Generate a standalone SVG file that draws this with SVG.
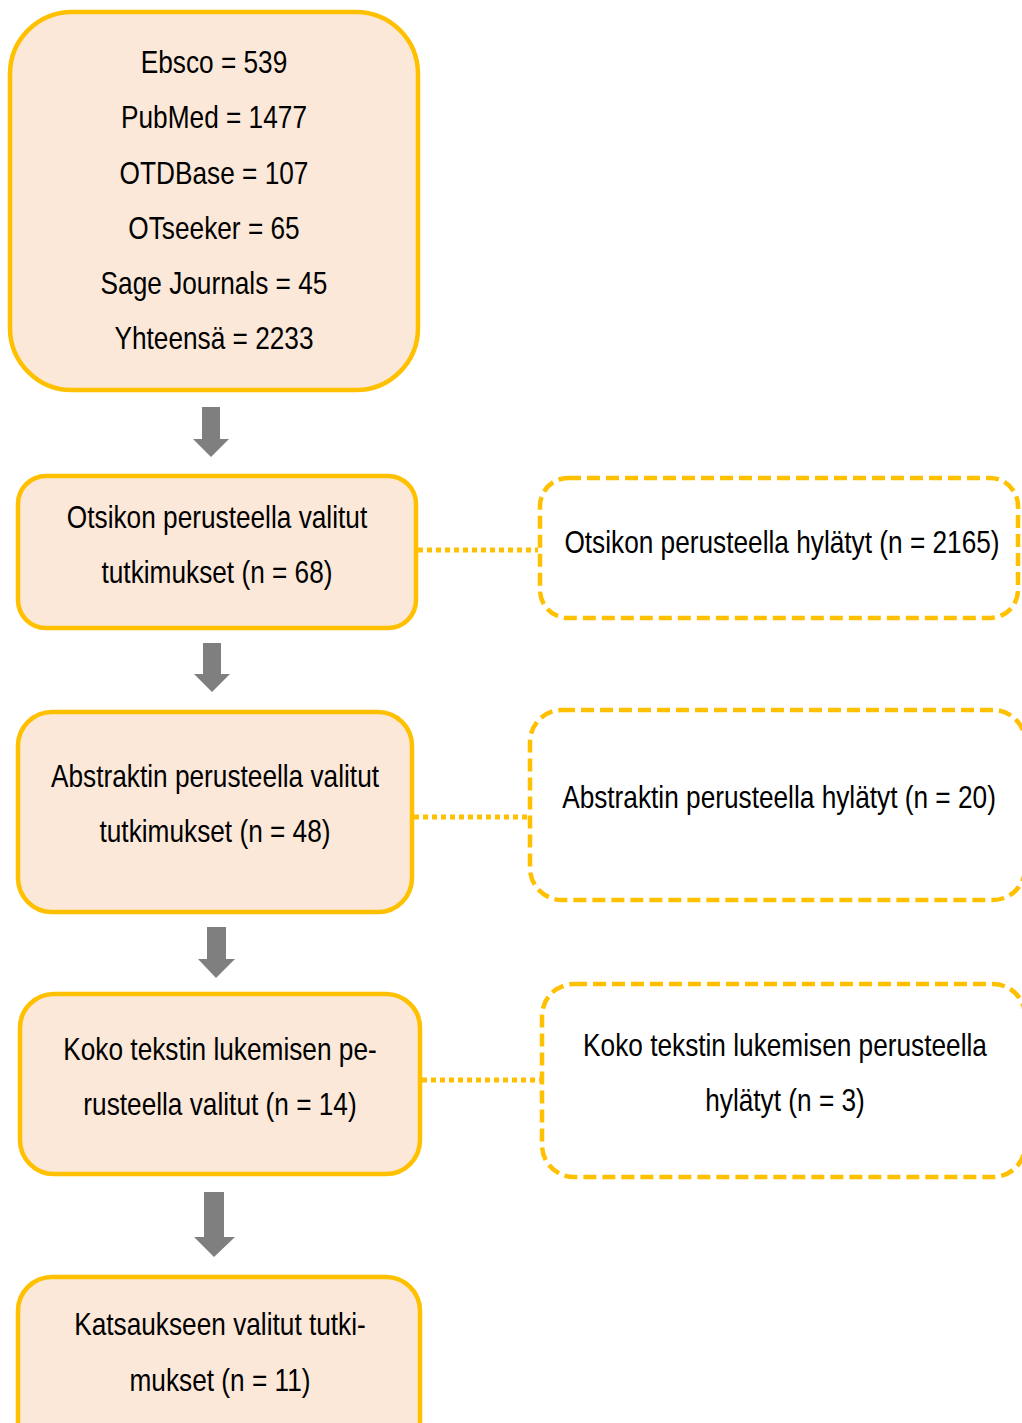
<svg xmlns="http://www.w3.org/2000/svg" width="1022" height="1423" viewBox="0 0 1022 1423">
<defs>
<style>
.box{fill:#FCE8D9;stroke:#FFC000;stroke-width:4.5}
.dbox{fill:#FFFFFF;stroke:#FFC000;stroke-width:4.5;stroke-dasharray:13 6}
.dot{stroke:#FFC000;stroke-width:5;stroke-dasharray:5 4;fill:none}
.arr{fill:#7F7F7F}
text{font-family:"Liberation Sans",Arial,sans-serif;font-size:32px;fill:#000;text-anchor:middle}
</style>
</defs>
<rect width="1022" height="1423" fill="#FFFFFF"/>
<g id="connectors">
<line class="dot" x1="418" y1="550" x2="538" y2="550"/>
<line class="dot" x1="414" y1="817" x2="528" y2="817"/>
<line class="dot" x1="422" y1="1080" x2="540" y2="1080"/>
<polygon class="arr" points="202,407 220,407 220,439 229,439 211,457 193,439 202,439"/>
<polygon class="arr" points="203,643 221,643 221,674 230,674 212,692 194,674 203,674"/>
<polygon class="arr" points="207,927 226,927 226,959 235,959 216,978 198,959 207,959"/>
<polygon class="arr" points="204,1192 224,1192 224,1237 235,1237 214,1257 194,1237 204,1237"/>
</g>
<g id="sources">
<rect class="box" x="10" y="12" width="408" height="378" rx="62" ry="62"/>
<text transform="translate(214,73) scale(0.82,1)">Ebsco = 539</text>
<text transform="translate(214,128) scale(0.82,1)">PubMed = 1477</text>
<text transform="translate(214,184) scale(0.82,1)">OTDBase = 107</text>
<text transform="translate(214,239) scale(0.82,1)">OTseeker = 65</text>
<text transform="translate(214,294) scale(0.82,1)">Sage Journals = 45</text>
<text transform="translate(214,349) scale(0.82,1)">Yhteensä = 2233</text>
</g>
<g id="title-selected">
<rect class="box" x="18" y="476" width="398" height="152" rx="28" ry="28"/>
<text transform="translate(217,528) scale(0.82,1)">Otsikon perusteella valitut</text>
<text transform="translate(217,583) scale(0.82,1)">tutkimukset (n = 68)</text>
</g>
<g id="title-rejected">
<rect class="dbox" x="540" y="478" width="478" height="140" rx="28" ry="28"/>
<text transform="translate(782,553) scale(0.82,1)">Otsikon perusteella hylätyt (n = 2165)</text>
</g>
<g id="abstract-selected">
<rect class="box" x="18" y="712" width="394" height="200" rx="34" ry="34"/>
<text transform="translate(215,787) scale(0.82,1)">Abstraktin perusteella valitut</text>
<text transform="translate(215,842) scale(0.82,1)">tutkimukset (n = 48)</text>
</g>
<g id="abstract-rejected">
<rect class="dbox" x="530" y="710" width="495" height="190" rx="32" ry="32"/>
<text transform="translate(779,808) scale(0.82,1)">Abstraktin perusteella hylätyt (n = 20)</text>
</g>
<g id="fulltext-selected">
<rect class="box" x="20" y="994" width="400" height="180" rx="34" ry="34"/>
<text transform="translate(220,1060) scale(0.82,1)">Koko tekstin lukemisen pe-</text>
<text transform="translate(220,1115) scale(0.82,1)">rusteella valitut (n = 14)</text>
</g>
<g id="fulltext-rejected">
<rect class="dbox" x="542" y="984" width="483" height="193" rx="32" ry="32"/>
<text transform="translate(785,1056) scale(0.82,1)">Koko tekstin lukemisen perusteella</text>
<text transform="translate(785,1111) scale(0.82,1)">hylätyt (n = 3)</text>
</g>
<g id="included">
<rect class="box" x="18" y="1277" width="402" height="180" rx="34" ry="34"/>
<text transform="translate(220,1335) scale(0.82,1)">Katsaukseen valitut tutki-</text>
<text transform="translate(220,1391) scale(0.82,1)">mukset (n = 11)</text>
</g>
</svg>
